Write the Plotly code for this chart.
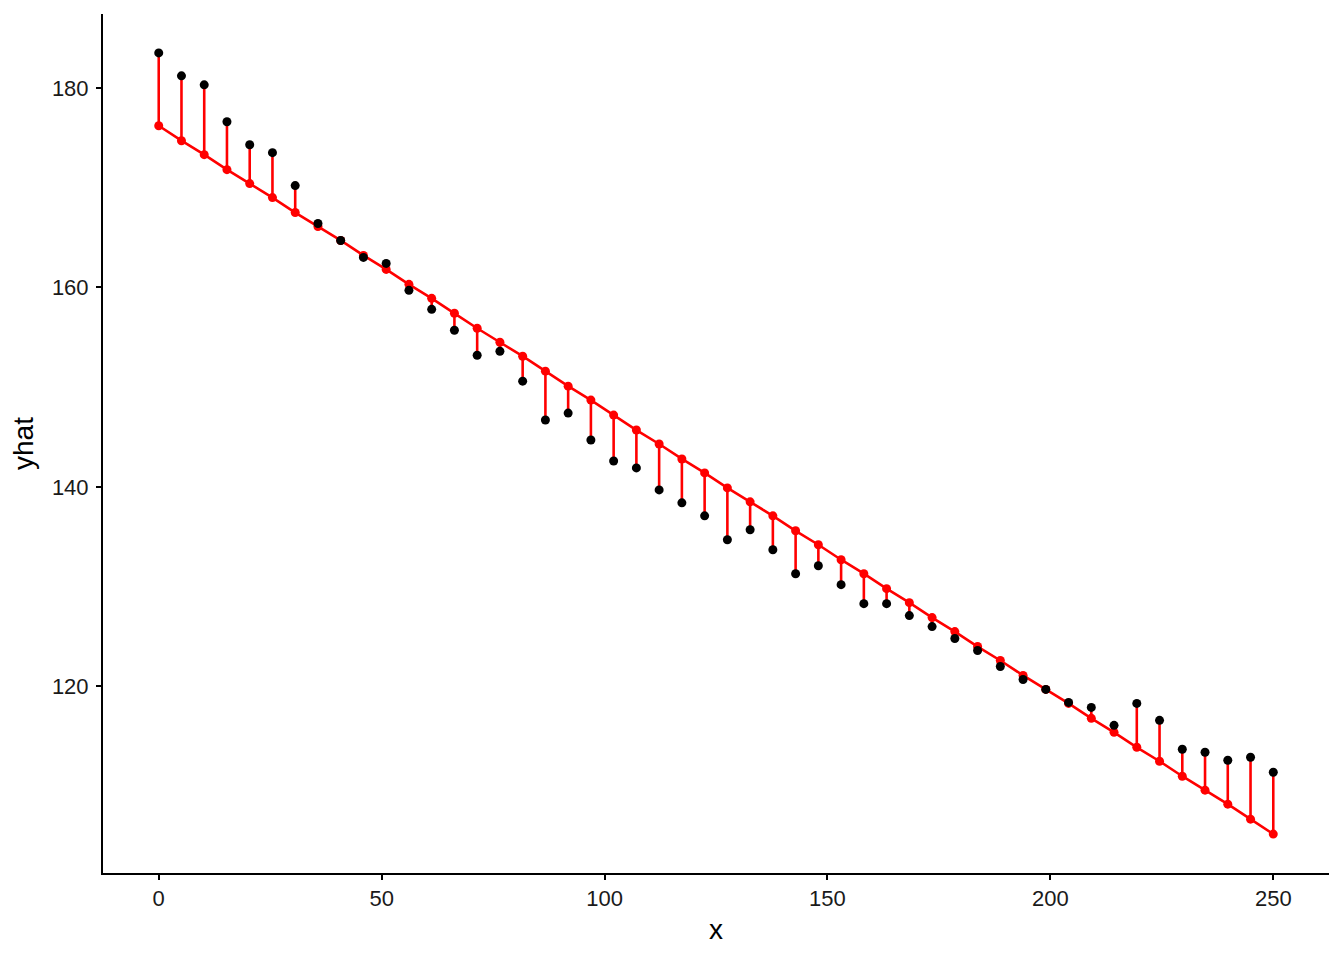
import plotly.graph_objects as go

n = 50
x = [250 * i / (n - 1) for i in range(n)]

y_obs = [183.5, 181.2, 180.3, 176.6, 174.3, 173.5, 170.2, 166.4, 164.7, 163.0,
         162.4, 159.7, 157.8, 155.7, 153.2, 153.6, 150.6, 146.7, 147.4, 144.7,
         142.6, 141.9, 139.7, 138.4, 137.1, 134.7, 135.7, 133.7, 131.3, 132.1,
         130.2, 128.3, 128.3, 127.1, 126.0, 124.8, 123.6, 122.0, 120.7, 119.7,
         118.4, 117.9, 116.1, 118.3, 116.6, 113.7, 113.4, 112.6, 112.9, 111.4]

y_hat = [176.2, 174.7, 173.3, 171.8, 170.4, 169.0, 167.5, 166.1, 164.7, 163.2,
         161.8, 160.3, 158.9, 157.4, 155.9, 154.5, 153.1, 151.6, 150.1, 148.7,
         147.2, 145.7, 144.3, 142.8, 141.4, 139.9, 138.5, 137.1, 135.6, 134.2,
         132.7, 131.3, 129.8, 128.4, 126.9, 125.5, 124.0, 122.6, 121.1, 119.7,
         118.3, 116.8, 115.4, 113.9, 112.5, 111.0, 109.6, 108.2, 106.7, 105.2]

x_ticks = [0, 50, 100, 150, 200, 250]
y_ticks = [120, 140, 160, 180]

seg_x, seg_y = [], []
for xi, yo, yh in zip(x, y_obs, y_hat):
    seg_x += [xi, xi, None]
    seg_y += [yh, yo, None]

fig = go.Figure()
fig.add_trace(go.Scatter(x=seg_x, y=seg_y, mode="lines",
                         line=dict(color="#FF0000", width=2.6), hoverinfo="skip"))
fig.add_trace(go.Scatter(x=x, y=y_hat, mode="lines+markers",
                         line=dict(color="#FF0000", width=2.6),
                         marker=dict(color="#FF0000", size=9)))
fig.add_trace(go.Scatter(x=x, y=y_obs, mode="markers",
                         marker=dict(color="#000000", size=9)))

axis_common = dict(
    showgrid=False, zeroline=False, showline=True, linecolor="black", linewidth=2,
    ticks="outside", ticklen=5, tickwidth=2, tickcolor="black",
    tickfont=dict(family="Liberation Sans, Arial, sans-serif", size=22, color="#1a1a1a"),
    title_font=dict(family="Liberation Sans, Arial, sans-serif", size=28, color="black"),
)

fig.update_layout(
    width=1344, height=960,
    margin=dict(l=95, r=23, t=6, b=95),
    plot_bgcolor="white", paper_bgcolor="white",
    showlegend=False,
    xaxis=dict(range=[-12.5, 262.5], tickvals=x_ticks, title=dict(text="x", standoff=9),
               **axis_common),
    yaxis=dict(range=[101.3, 187.4], tickvals=y_ticks, title=dict(text="yhat", standoff=13),
               ticklabelstandoff=3, **axis_common),
)

fig.write_html("out.html")
